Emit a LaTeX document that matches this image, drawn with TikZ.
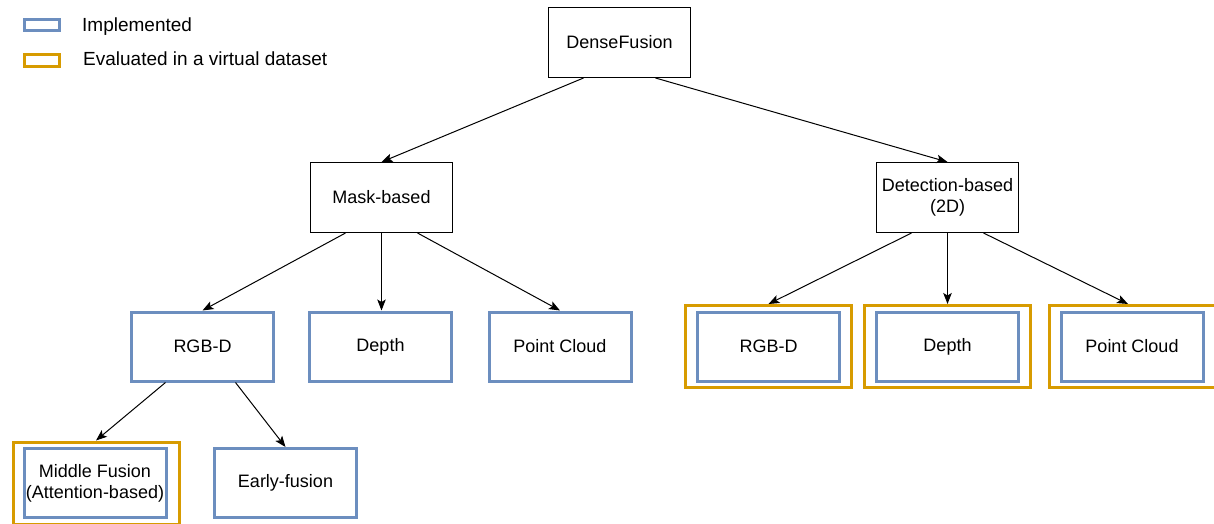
\documentclass[tikz,border=0pt]{standalone}
\usepackage{fontspec}
\setmainfont{Liberation Sans}
\usetikzlibrary{arrows.meta}
\definecolor{implblue}{HTML}{6C8EBF}
\definecolor{evalorange}{HTML}{D79B00}
\tikzset{
  txt/.style={font=\fontsize{18}{21}\selectfont, align=center},
  legtxt/.style={font=\fontsize{19}{22}\selectfont, anchor=base west, inner sep=0pt},
  plainbox/.style={txt, draw=black, line width=1pt, minimum width=142pt, minimum height=70pt, inner sep=0pt},
  implbox/.style={txt, draw=implblue, line width=3pt, minimum width=142pt, minimum height=69pt, inner sep=0pt},
  evalbox/.style={draw=evalorange, line width=3pt, minimum width=166pt, minimum height=82pt, inner sep=0pt},
  legimpl/.style={draw=implblue, line width=3pt, minimum width=35pt, minimum height=11pt, inner sep=0pt},
  legeval/.style={draw=evalorange, line width=3pt, minimum width=35pt, minimum height=12pt, inner sep=0pt},
  arr/.style={draw=black, line width=1pt, -{Stealth[length=11pt,width=8.5pt,inset=2.5pt]}}
}
\begin{document}
\begin{tikzpicture}[x=1pt,y=-1pt]
\useasboundingbox (0,0) rectangle (1214,524);

% legend
\node[legimpl] (legA) at (42,25) {};
\node[legtxt] (legAt) at (82,31.5) {Implemented};
\node[legeval] (legB) at (42,60.5) {};
\node[legtxt] (legBt) at (83,66) {Evaluated in a virtual dataset};

% top levels
\node[plainbox] (df) at (619.5,42.5) {DenseFusion};
\node[plainbox] (mask) at (381.5,197.5) {Mask-based};
\node[plainbox] (det) at (947.5,197.5) {Detection-based\\(2D)};

% mask-based branch
\node[implbox] (lrgb) at (202.5,346.5) {RGB-D};
\node[implbox] (ldepth) at (380.5,346.5) {Depth};
\node[implbox] (lpc) at (560,346.5) {Point Cloud};

% detection-based branch
\node[evalbox] (rrgbO) at (768.5,346.5) {};
\node[implbox] (rrgb) at (768.5,346.5) {RGB-D};
\node[evalbox] (rdepthO) at (947.5,346.5) {};
\node[implbox] (rdepth) at (947.5,346.5) {Depth};
\node[evalbox] (rpcO) at (1132,346.5) {};
\node[implbox] (rpc) at (1132,346.5) {Point Cloud};

% RGB-D fusion variants
\node[evalbox] (mfO) at (96,483) {};
\node[implbox] (mf) at (95,483) {Middle Fusion\\(Attention-based)};
\node[implbox] (early) at (285.5,483) {Early-fusion};

% connectors
\draw[arr] ([xshift=-36pt]df.south) -- (mask.north);
\draw[arr] ([xshift=36pt]df.south) -- (det.north);
\draw[arr] ([xshift=-36pt]mask.south) -- (lrgb.north);
\draw[arr] (mask.south) -- (mask.south |- ldepth.north);
\draw[arr] ([xshift=36pt]mask.south) -- (lpc.north);
\draw[arr] ([xshift=-36pt]det.south) -- (rrgbO.north);
\draw[arr] (det.south) -- (det.south |- rdepthO.north);
\draw[arr] ([xshift=36pt]det.south) -- ([xshift=-4pt]rpcO.north);
\draw[arr] ([xshift=-37pt]lrgb.south) -- (mfO.north);
\draw[arr] ([xshift=33pt]lrgb.south) -- (early.north);
\end{tikzpicture}
\end{document}
